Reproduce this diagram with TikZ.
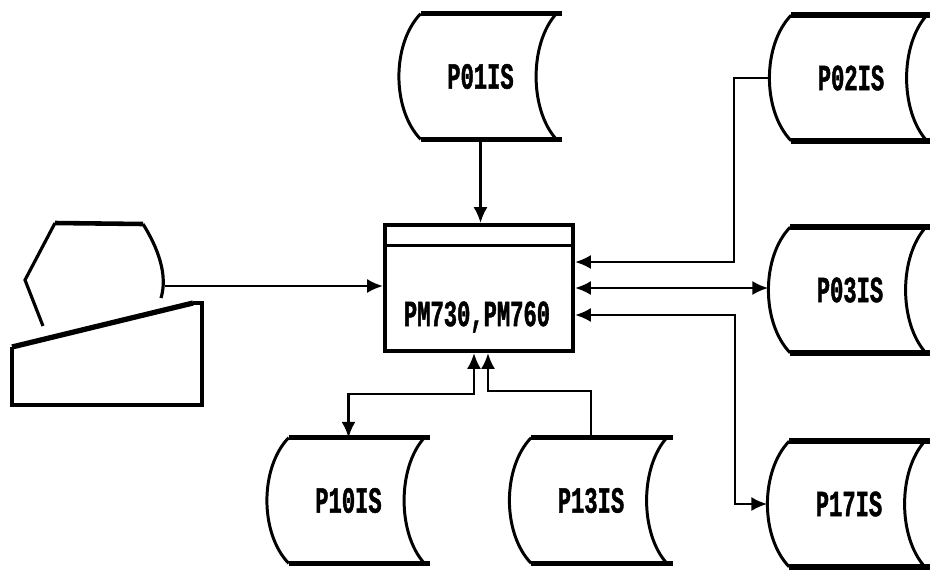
\documentclass[tikz,border=0pt]{standalone}
\usepackage{fontspec}
\newfontfamily\crtfont[FakeStretch=0.6, FakeBold=1.2]{Liberation Mono}
\usetikzlibrary{positioning, arrows.meta, calc}

% one data file: a node plus its drum outline
\newcommand{\datafile}[3]{%
  \node[filenode] (#1) at (#2) {#3};
  \draw[filerim] ($(#1.north west)+(22,0)$) -- (#1.north east);
  \draw[filerim] ($(#1.south west)+(22,0)$) -- (#1.south east);
  \draw[fileside] ($(#1.north west)+(22,0)$) .. controls ($(#1.north west)+(-7,30)$) and ($(#1.south west)+(-7,-30)$) .. ($(#1.south west)+(22,0)$);
  \draw[fileside] ($(#1.north east)+(-6,0)$) .. controls ($(#1.north east)+(-33,30)$) and ($(#1.south east)+(-33,-30)$) .. ($(#1.south east)+(-6,0)$);
}

\begin{document}
\begin{tikzpicture}[x=0.02cm, y=-0.02cm, >={Latex[length=9pt,width=8pt]},
  font=\crtfont\bfseries\fontsize{21}{21}\selectfont,
  filenode/.style={inner sep=0pt, minimum width=3.26cm, minimum height=2.5cm},
  filerim/.style={line width=3.2pt},
  fileside/.style={line width=1.7pt},
  procbox/.style={draw, line width=2.4pt, inner sep=0pt, minimum width=3.76cm, minimum height=2.52cm},
  link/.style={line width=1.3pt}]
\useasboundingbox (0,0) rectangle (930,569);
% terminal
\draw[line width=2.6pt] (55,223) -- (143,224);
\draw[line width=1.8pt] (55,223) -- (25,280) -- (43,326);
\draw[line width=1.8pt] (143,224) .. controls (158,248) and (168,275) .. (161,298);
\draw[line width=1.8pt] (193,303) -- (202,303) -- (202,405) -- (12,405) -- (12,347);
\draw[line width=3pt] (12,347) -- (193,303);
\coordinate (term) at (165,286);
% program
\node[procbox] (box) at (479,288) {};
\draw[line width=1.7pt] ($(box.north west)+(0,23)$) -- ($(box.north east)+(0,23)$);
\node (pm) at (477,317) {PM730,PM760};
% files
\datafile{p01}{480.5,76.5}{P01IS}
\datafile{p02}{851,78}{P02IS}
\datafile{p03}{850,290}{P03IS}
\datafile{p17}{849,504}{P17IS}
\datafile{p10}{348.5,500.5}{P10IS}
\datafile{p13}{591,500.5}{P13IS}
% connectors
\draw[link, ->] (p01.south) -- (p01.south |- box.north);
\draw[link, ->] (term) -- (term -| box.west);
\draw[link, ->] (p02.west) -- ++(-35,0) |- ($(box.east)+(0,-26)$);
\draw[link, <->] (box.east) -- (box.east -| p03.west);
\draw[link, <->] ($(box.east)+(0,27)$) -- ++(160,0) |- (p17.west);
\draw[link, <->] ($(box.south)+(-5,0)$) -- ++(0,41) -| (p10.north);
\draw[link, ->] (p13.north) -- ++(0,-47) -| ($(box.south)+(9,0)$);
\end{tikzpicture}
\end{document}
